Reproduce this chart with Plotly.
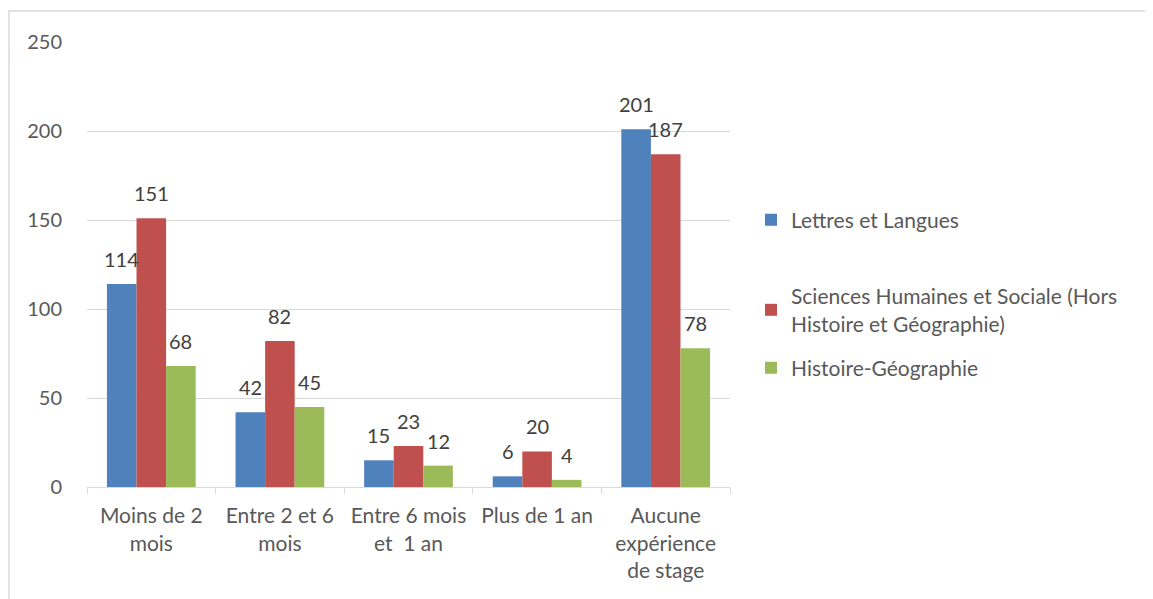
import plotly.graph_objects as go

categories = ["Moins de 2<br>mois", "Entre 2 et 6<br>mois", "Entre 6 mois<br>et  1 an",
              "Plus de 1 an", "Aucune<br>expérience<br>de stage"]
lettres = [114, 42, 15, 6, 201]
sciences = [151, 82, 23, 20, 187]
histoire = [68, 45, 12, 4, 78]

series = [
    ("Lettres et Langues", lettres, "#4f81bd"),
    ("Sciences Humaines et Sociale (Hors<br>Histoire et Géographie)", sciences, "#c0504d"),
    ("Histoire-Géographie", histoire, "#9bbb59"),
]

FONT = "Lato"
FS_NUM = 20   # digits (axis values, data labels)
FS_TXT = 21   # category labels and legend
BARGAP = 0.31

# page body adds an 8px offset, so design coords = screen coords - 8
L, R, T, B = 79, 722, 34, 479
W, H = R - L, B - T

legend_names = ["legend", "legend2", "legend3"]
legend_y = [212, 302, 360]  # centres of legend entries (design px)

fig = go.Figure()
bar_w = (1 - BARGAP) / len(series)
for k, (name, vals, col) in enumerate(series):
    fig.add_trace(go.Bar(
        x=categories, y=vals, name=name, legend=legend_names[k],
        marker=dict(color=col, line=dict(width=0)),
    ))
    # data labels above each bar
    off = (k - (len(series) - 1) / 2) * bar_w
    for i, v in enumerate(vals):
        fig.add_annotation(
            x=i + off, y=v, xref="x", yref="y", text=str(v), showarrow=False,
            yanchor="bottom", yshift=11,
            font=dict(family=FONT, size=FS_NUM, color="#404040"),
        )

layout_legends = {}
for k, ln in enumerate(legend_names):
    layout_legends[ln] = dict(
        x=(743 - L) / W, y=(B - legend_y[k]) / H, xanchor="left", yanchor="middle",
        font=dict(family=FONT, size=FS_TXT, color="#595959"),
        itemwidth=30, bgcolor="rgba(0,0,0,0)",
    )

fig.update_layout(
    width=1153, height=599,
    margin=dict(l=L, r=1153 - R, t=T, b=599 - B),
    paper_bgcolor="white", plot_bgcolor="white",
    barmode="group", bargap=BARGAP, bargroupgap=0,
    font=dict(family=FONT, size=FS_NUM, color="#595959"),
    showlegend=True,
    **layout_legends,
)
fig.update_xaxes(
    showline=True, linecolor="#d9d9d9", linewidth=1,
    ticks="outside", tickson="boundaries", ticklen=6, tickcolor="#d9d9d9",
    showgrid=False, ticklabelstandoff=10, tickangle=0, automargin=False,
    tickfont=dict(family=FONT, size=FS_TXT, color="#595959"),
)
fig.update_yaxes(
    range=[0, 250], dtick=50, showgrid=True, gridcolor="#d9d9d9", gridwidth=1,
    zeroline=False, showline=False, ticks="", automargin=False,
    ticklabelstandoff=24,
    tickfont=dict(family=FONT, size=FS_NUM, color="#595959"),
)

# outer chart frame (cropped on right and bottom like the original)
fig.add_shape(
    type="rect", xref="paper", yref="paper",
    x0=(1 - L) / W, x1=(1180 - L) / W,
    y0=(B - 640) / H, y1=(B - 3) / H,
    line=dict(color="#d9d9d9", width=1.5), fillcolor="rgba(0,0,0,0)", layer="below",
)

fig.write_html("out.html")
